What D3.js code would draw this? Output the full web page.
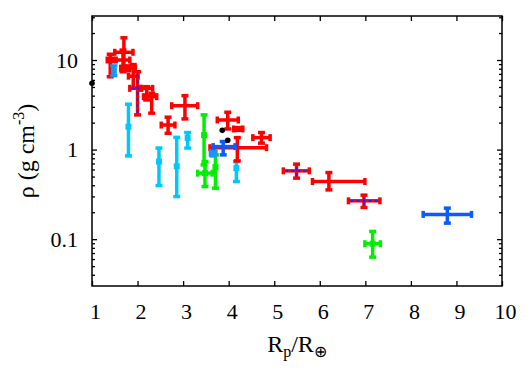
<!DOCTYPE html>
<html>
<head>
<meta charset="utf-8">
<script src="https://cdn.jsdelivr.net/npm/d3@7"></script>
<style>
  body { margin: 0; background: #fff; }
  svg { display: block; }
</style>
</head>
<body>
<svg width="529" height="373"></svg>
<script>
// each row: [R, R low, R high, rho, rho low, rho high]
const redPlanets = [
  [1.40, 1.335, 1.465, 10.0, 6.5, 11.6],
  [1.70, 1.50, 1.90, 12.2, 8.5, 17.7],
  [1.68, 1.53, 1.83, 10.0, 7.4, 12.9],
  [1.79, 1.63, 1.95, 8.1, 7.6, 8.6],
  [1.905, 1.80, 2.01, 6.6, 4.84, 8.9],
  [2.20, 2.07, 2.33, 4.83, 3.58, 5.04],
  [2.31, 2.13, 2.42, 3.90, 2.55, 4.25],
  [2.67, 2.52, 2.82, 1.88, 1.52, 2.30],
  [3.04, 2.75, 3.32, 3.09, 2.20, 4.00],
  [3.98, 3.75, 4.21, 2.14, 1.70, 2.61],
  [4.21, 4.11, 4.31, 1.70, 1.64, 1.76],
  [4.72, 4.53, 4.91, 1.36, 1.18, 1.55],
  [4.19, 3.59, 4.83, 1.05, 0.748, 1.36],
  [6.20, 5.84, 6.99, 0.44, 0.355, 0.554]
];
const stripedPlanets = [
  [2.00, 1.83, 2.09, 4.83, 2.44, 7.4],
  [5.49, 5.20, 5.77, 0.579, 0.48, 0.688],
  [6.97, 6.63, 7.32, 0.268, 0.226, 0.31]
];
const bluePlanets = [
  [3.88, 3.66, 4.14, 1.08, 0.873, 1.23],
  [8.80, 8.27, 9.33, 0.189, 0.151, 0.222]
];
const greenPlanets = [
  [3.46, 3.46, 3.46, 1.45, 0.675, 2.44],
  [3.48, 3.32, 3.64, 0.546, 0.387, 0.735],
  [3.71, 3.71, 3.71, 0.637, 0.371, 0.873],
  [7.16, 6.99, 7.33, 0.089, 0.063, 0.122]
];
const cyanPlanets = [
  [1.80, 1.80, 1.80, 1.80, 0.85, 3.21],
  [2.47, 2.47, 2.47, 0.735, 0.397, 1.04],
  [2.86, 2.86, 2.86, 0.65, 0.299, 1.37],
  [3.10, 3.10, 3.10, 1.35, 1.04, 1.55],
  [4.17, 4.17, 4.17, 0.62, 0.44, 0.735]
];
const skyPlanets = [
  [1.48, 1.48, 1.48, 7.6, 6.7, 8.6],
  [3.66, 3.60, 3.72, 0.91, 0.85, 0.97]
];
// Earth, Neptune, Uranus
const solarR = [1.0, 3.86, 3.98];
const solarRho = [5.51, 1.64, 1.27];

const xTicks = [1, 2, 3, 4, 5, 6, 7, 8, 9, 10];
const yMajor = [0.1, 1, 10];
const yMinor = [0.04, 0.05, 0.06, 0.07, 0.08, 0.09, 0.2, 0.3, 0.4, 0.5, 0.6, 0.7, 0.8, 0.9,
                2, 3, 4, 5, 6, 7, 8, 9, 20, 30];

const serif = "'Liberation Serif'";

const margin = { top: 16, right: 27, bottom: 87, left: 92 };
const W = 529, H = 373;
const width = W - margin.left - margin.right;
const height = H - margin.top - margin.bottom;

const svg = d3.select("svg");
const g = svg.append("g").attr("transform", "translate(" + margin.left + "," + margin.top + ")");

const x = d3.scaleLinear().domain([1, 10]).range([0, width]);
const y = d3.scaleLog().domain([0.03, 31]).range([height, 0]);

// axes, ticks pointing inwards
function styleAxis(sel) {
  sel.select(".domain").remove();
  sel.selectAll("line").attr("stroke", "#000").attr("stroke-width", 1.3);
  sel.selectAll("text")
    .style("font-family", serif)
    .style("font-size", "22px")
    .attr("fill", "#000");
}

g.append("g")
  .attr("transform", "translate(0," + height + ")")
  .call(d3.axisBottom(x).tickValues(xTicks).tickSize(-5).tickSizeOuter(0).tickPadding(17).tickFormat(d3.format("d")))
  .call(styleAxis)
  .selectAll("text").attr("dx", 3);

g.append("g")
  .call(d3.axisTop(x).tickValues(xTicks).tickSize(-5).tickSizeOuter(0).tickFormat(""))
  .call(styleAxis);

g.append("g")
  .call(d3.axisLeft(y).tickValues(yMajor).tickSize(-5).tickSizeOuter(0).tickPadding(14).tickFormat(d => d3.format("~g")(d)))
  .call(styleAxis);
g.append("g")
  .call(d3.axisLeft(y).tickValues(yMinor).tickSize(-3).tickSizeOuter(0).tickFormat(""))
  .call(styleAxis);

g.append("g")
  .attr("transform", "translate(" + width + ",0)")
  .call(d3.axisRight(y).tickValues(yMajor).tickSize(-5).tickSizeOuter(0).tickFormat(""))
  .call(styleAxis);
g.append("g")
  .attr("transform", "translate(" + width + ",0)")
  .call(d3.axisRight(y).tickValues(yMinor).tickSize(-3).tickSizeOuter(0).tickFormat(""))
  .call(styleAxis);

// error bars
const lw = 3.5, cap = 3.5;

function line(sel, x1, y1, x2, y2, color, w) {
  return sel.append("line")
    .attr("x1", x1).attr("y1", y1).attr("x2", x2).attr("y2", y2)
    .attr("stroke", color).attr("stroke-width", w || lw);
}

function drawSeries(rows, color, opts) {
  opts = opts || {};
  const s = g.append("g");
  rows.forEach(d => {
    const cx = x(d[0]), cy = y(d[3]);
    const xl = x(d[1]), xh = x(d[2]), yl = y(d[4]), yh = y(d[5]);
    if (xh > xl) {
      line(s, xl, cy, xh, cy, color);
      line(s, xl, cy - cap, xl, cy + cap, color);
      line(s, xh, cy - cap, xh, cy + cap, color);
    }
    if (yl > yh) {
      line(s, cx, yl, cx, yh, color);
      line(s, cx - cap, yl, cx + cap, yl, color);
      line(s, cx - cap, yh, cx + cap, yh, color);
    }
    if (opts.dash) {
      if (xh > xl) line(s, xl + 2, cy, xh - 2, cy, opts.dash, 1.8).attr("stroke-dasharray", "3,3");
      if (yl > yh) line(s, cx, yl - 2, cx, yh + 2, opts.dash, 1.8).attr("stroke-dasharray", "3,3");
    }
    if (opts.square) {
      s.append("rect")
        .attr("x", cx - 3).attr("y", cy - 3)
        .attr("width", 6).attr("height", 6)
        .attr("fill", color);
    }
  });
}

drawSeries(cyanPlanets, "#00c8ff", { square: true });
drawSeries(greenPlanets, "#00ee00", { square: true });
drawSeries(redPlanets, "#ff0000");
drawSeries(stripedPlanets, "#ff0000", { dash: "#2020ff" });
drawSeries(skyPlanets, "#1a96f0", { square: true });
drawSeries(bluePlanets, "#0a5cff");

g.append("g")
  .selectAll("circle")
  .data(solarR)
  .join("circle")
  .attr("cx", d => x(d))
  .attr("cy", (d, i) => y(solarRho[i]))
  .attr("r", 2.8)
  .attr("fill", "#000");

// frame
g.append("rect")
  .attr("width", width).attr("height", height)
  .attr("fill", "none").attr("stroke", "#000").attr("stroke-width", 1.5);

// axis titles
const xt = svg.append("text")
  .attr("x", margin.left + width / 2).attr("y", 352)
  .style("font-family", serif).style("font-size", "24px")
  .attr("text-anchor", "middle");
xt.append("tspan").text("R");
xt.append("tspan").style("font-size", "16px").attr("dy", 5).text("p");
xt.append("tspan").attr("dy", -5).text("/R");
xt.append("tspan").style("font-size", "16px").attr("dy", 5).text("\u2295");

const yt = svg.append("text")
  .attr("transform", "translate(34," + (margin.top + height / 2) + ") rotate(-90)")
  .style("font-family", serif).style("font-size", "24px")
  .attr("text-anchor", "middle");
yt.append("tspan").text("\u03c1 (g cm");
yt.append("tspan").style("font-size", "16px").attr("dy", -10).text("-3");
yt.append("tspan").attr("dy", 10).text(")");
</script>
</body>
</html>
